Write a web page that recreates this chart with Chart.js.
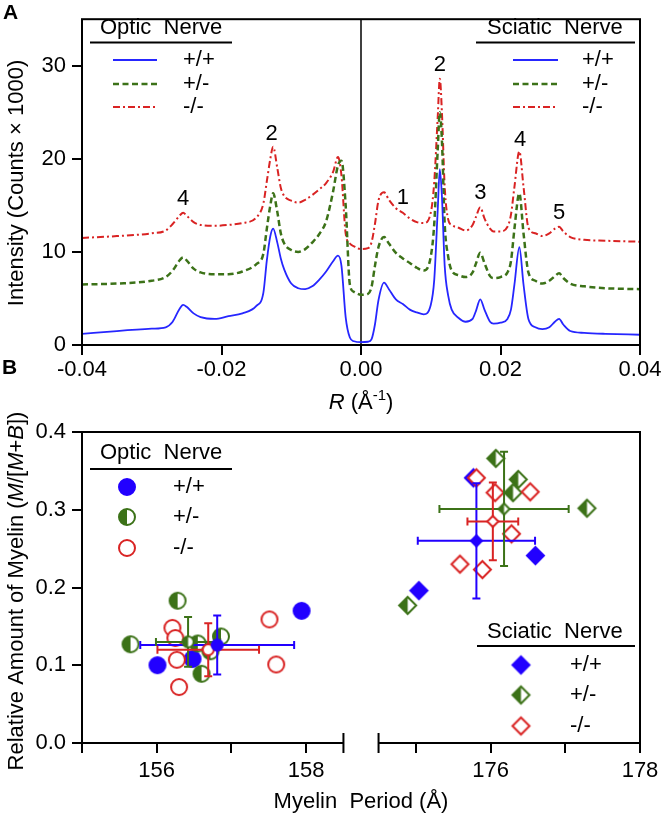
<!DOCTYPE html>
<html>
<head>
<meta charset="utf-8">
<script src="https://cdn.jsdelivr.net/npm/chart.js@4.4.1/dist/chart.umd.min.js"></script>
<style>
  body { margin: 0; background: #fff; }
  #wrap { position: relative; width: 664px; height: 815px; }
  canvas { position: absolute; left: 0; }
  #topChart { top: 0; }
  #botChart { top: 410px; }
</style>
</head>
<body>
<div id="wrap">
  <canvas id="topChart" width="664" height="420"></canvas>
  <canvas id="botChart" width="664" height="405"></canvas>
</div>
<script>
// ---- panel A data ----
const qValues = [-0.040,-0.035,-0.030,-0.028,-0.027,-0.026,-0.0255,-0.025,-0.024,-0.023,
  -0.021,-0.019,-0.017,-0.015,-0.014,-0.0135,-0.013,-0.0126,-0.012,-0.0115,
  -0.011,-0.010,-0.009,-0.008,-0.007,-0.006,-0.005,-0.004,-0.0033,-0.0028,
  -0.0022,-0.0016,-0.001,0.000,0.001,0.0015,0.002,0.0025,0.0033,0.004,
  0.005,0.006,0.007,0.008,0.009,0.010,0.0105,0.011,0.0113,0.0116,
  0.012,0.0125,0.013,0.014,0.015,0.016,0.0165,0.0171,0.0177,0.0185,
  0.019,0.020,0.021,0.0215,0.022,0.0227,0.0233,0.024,0.025,0.026,
  0.027,0.0278,0.0284,0.029,0.030,0.032,0.035,0.040];
const wtIntensity = [1.2,1.5,1.75,1.9,2.5,3.9,4.3,4.1,3.4,3.0,
  2.8,3.1,3.4,4.2,5.6,9.1,11.7,12.5,11.0,9.3,
  8.1,6.6,6.1,6.0,6.3,7.0,7.9,9.0,9.6,8.5,
  3.0,0.8,0.4,0.3,0.35,0.6,2.2,4.8,6.7,6.0,
  4.9,4.4,3.8,3.5,3.3,4.3,7.0,14.5,18.9,16.0,
  8.5,5.3,3.8,2.9,2.5,2.8,3.7,4.9,3.8,2.5,
  2.3,2.4,2.8,3.8,6.5,10.5,6.5,2.8,1.9,1.7,
  1.9,2.5,2.8,2.2,1.5,1.3,1.2,1.1];
const hetIntensity = [6.5,6.6,6.9,7.3,8.0,9.1,9.4,9.1,8.2,7.8,
  7.6,7.6,7.9,8.7,9.8,12.5,15.0,16.3,14.3,12.0,
  10.9,10.2,10.0,10.3,11.0,11.9,13.3,16.5,19.3,19.8,
  15.0,6.5,5.7,5.4,5.5,6.2,8.5,10.5,11.6,10.9,
  9.9,9.3,8.8,8.3,8.0,9.5,13.0,21.0,25.0,22.0,
  13.0,9.5,8.0,7.5,7.3,7.8,8.8,9.9,8.8,7.4,
  7.2,7.3,7.8,9.0,12.5,16.3,12.0,7.8,6.9,6.6,
  6.9,7.4,7.7,7.2,6.6,6.3,6.1,6.0];
const koIntensity = [11.5,11.7,12.0,12.3,13.0,13.9,14.2,13.9,13.2,12.9,
  12.8,12.9,13.1,13.7,15.2,17.6,20.0,21.3,19.0,16.9,
  16.0,15.5,15.3,15.6,16.1,16.7,17.4,18.6,20.2,18.2,
  12.0,10.9,10.6,10.3,10.4,11.0,13.0,15.5,16.4,15.6,
  14.7,14.2,13.6,13.2,13.1,14.2,17.5,24.5,28.6,25.0,
  17.0,13.5,12.9,12.6,12.3,12.9,13.8,14.8,13.6,12.5,
  12.2,12.2,12.7,14.0,17.0,20.8,17.0,12.6,12.0,11.7,
  12.0,12.5,12.7,12.2,11.6,11.3,11.2,11.1];
const peakText = ['4', '2', '1', '2', '3', '4', '5'];
const peakQ = [-0.0255, -0.0128, 0.0060, 0.0113, 0.0171, 0.0228, 0.0284];
const peakY = [15.7, 22.7, 15.8, 30.1, 16.3, 22.0, 14.2];
const rTicks = [-0.04, -0.02, 0, 0.02, 0.04];
const intensityTicks = [0, 10, 20, 30];

// ---- panel B data ----
const genotypes = ['+/+', '+/-', '-/-'];
const opticWtX = [156.01, 156.48, 157.94];
const opticWtY = [0.100, 0.108, 0.170];
const opticHetX = [156.28, 155.65, 156.55, 156.86, 156.72, 156.60];
const opticHetY = [0.183, 0.127, 0.128, 0.137, 0.118, 0.089];
const opticKoX = [156.21, 156.25, 156.27, 156.30, 157.51, 157.60];
const opticKoY = [0.148, 0.135, 0.107, 0.072, 0.159, 0.101];
const opticMeanX = [156.81, 156.42, 156.69];
const opticMeanY = [0.126, 0.130, 0.120];
const opticSdX = [1.03, 0.43, 0.68];
const opticSdY = [0.038, 0.032, 0.034];

const sciWtX = [175.04, 176.60, 175.77];
const sciWtY = [0.196, 0.241, 0.341];
const sciHetX = [174.89, 176.07, 176.37, 176.30, 177.29];
const sciHetY = [0.177, 0.366, 0.339, 0.322, 0.302];
const sciKoX = [175.81, 176.06, 176.53, 176.28, 175.59, 175.89];
const sciKoY = [0.341, 0.322, 0.323, 0.269, 0.230, 0.223];
const sciMeanX = [175.81, 176.18, 176.03];
const sciMeanY = [0.260, 0.301, 0.285];
const sciSdX = [0.785, 0.865, 0.34];
const sciSdY = [0.074, 0.0735, 0.050];

const periodTicks = [155, 156, 157, 158, 175, 176, 177, 178];
const periodLabels = [156, 158, 176, 178];
const amountTicks = [0, 0.1, 0.2, 0.3, 0.4];

// broken x axis: 155-158.5 | 174.5-178
const LEFT_MIN = 155, LEFT_MAX = 158.5, RIGHT_MIN = 174.5, RIGHT_MAX = 178, GAP = 0.47;
const SCI_SHIFT = RIGHT_MIN - LEFT_MAX - GAP;
const periodAxis = v => v > LEFT_MAX ? v - SCI_SHIFT : v;

const FAMILY = '"Liberation Sans", Arial, sans-serif';
const F_N = '22px ' + FAMILY;
const F_I = 'italic 22px ' + FAMILY;
const F_S = '15px ' + FAMILY;
const BLUE = '#2626ff', GREEN = '#3c7218', RED = '#d92323', MBLUE = '#2200ff';
const colors = [MBLUE, GREEN, RED];

function drawRuns(ctx, runs, cx, cy, angle) {
  ctx.save();
  ctx.translate(cx, cy);
  ctx.rotate(angle || 0);
  ctx.textBaseline = 'middle';
  ctx.textAlign = 'left';
  ctx.fillStyle = '#000';
  let w = 0;
  runs.forEach(r => { ctx.font = r.font; w += ctx.measureText(r.t).width; });
  let x = -w / 2;
  runs.forEach(r => {
    ctx.font = r.font;
    ctx.fillText(r.t, x, r.dy || 0);
    x += ctx.measureText(r.t).width;
  });
  ctx.restore();
}

function text(ctx, t, x, y, font, align) {
  ctx.font = font || F_N;
  ctx.fillStyle = '#000';
  ctx.textAlign = align || 'left';
  ctx.textBaseline = 'middle';
  ctx.fillText(t, x, y);
}

function hline(ctx, x0, x1, y, w) {
  ctx.beginPath();
  ctx.moveTo(x0, y);
  ctx.lineTo(x1, y);
  ctx.lineWidth = w || 2;
  ctx.strokeStyle = '#000';
  ctx.stroke();
}

// marker images for the scatter panel
function marker(shape, mode, color, r) {
  const lw = 2, size = Math.ceil(2 * r + 2 * lw + 2);
  const c = document.createElement('canvas');
  c.width = c.height = size;
  const g = c.getContext('2d');
  const m = size / 2;
  const path = () => {
    g.beginPath();
    if (shape === 'circle') {
      g.arc(m, m, r, 0, Math.PI * 2);
    } else {
      g.moveTo(m, m - r); g.lineTo(m + r, m); g.lineTo(m, m + r); g.lineTo(m - r, m); g.closePath();
    }
  };
  path();
  g.fillStyle = mode === 'full' ? color : '#fff';
  g.fill();
  if (mode === 'half') {
    g.save();
    g.beginPath(); g.rect(0, 0, m, size); g.clip();
    path(); g.fillStyle = color; g.fill();
    g.restore();
  }
  path();
  g.lineWidth = lw;
  g.strokeStyle = color;
  g.stroke();
  return c;
}
const modes = ['full', 'half', 'open'];
const circleBig = modes.map((m, i) => marker('circle', m, colors[i], 8));
const circleMean = modes.map((m, i) => marker('circle', m, colors[i], 5.5));
const diamondBig = modes.map((m, i) => marker('diamond', m, colors[i], 8.5));
const diamondMean = modes.map((m, i) => marker('diamond', m, colors[i], 5.5));

// ---------- Panel A ----------
const lineStyles = [
  { color: BLUE, width: 1.8, dash: [] },
  { color: GREEN, width: 2.5, dash: [6, 3.5] },
  { color: RED, width: 2, dash: [7, 3, 2, 3] }
];
const intensitySeries = [wtIntensity, hetIntensity, koIntensity];

const topDecor = {
  id: 'topDecor',
  beforeDatasetsDraw(chart) {
    const { ctx, chartArea: a, scales } = chart;
    const x0 = scales.x.getPixelForValue(0);
    ctx.save();
    ctx.beginPath();
    ctx.moveTo(x0, a.top);
    ctx.lineTo(x0, a.bottom);
    ctx.lineWidth = 1.5;
    ctx.strokeStyle = '#000';
    ctx.stroke();
    ctx.restore();
  },
  afterDraw(chart) {
    const { ctx, chartArea: a, scales } = chart;
    ctx.save();
    ctx.lineWidth = 2;
    ctx.strokeStyle = '#000';
    ctx.strokeRect(a.left, a.top, a.right - a.left, a.bottom - a.top);

    peakText.forEach((t, i) => {
      text(ctx, t, scales.x.getPixelForValue(peakQ[i]), scales.y.getPixelForValue(peakY[i]), F_N, 'center');
    });

    const legends = [
      { title: 'Optic  Nerve', tx: 100, ux0: 90, ux1: 232, sx0: 113, sx1: 157, lx: 183 },
      { title: 'Sciatic  Nerve', tx: 487, ux0: 476, ux1: 635, sx0: 513, sx1: 558, lx: 582 }
    ];
    const rows = [60, 84, 107];
    legends.forEach(L => {
      text(ctx, L.title, L.tx, 28);
      hline(ctx, L.ux0, L.ux1, 42.5, 2);
      rows.forEach((y, i) => {
        const s = lineStyles[i];
        ctx.beginPath();
        ctx.setLineDash(s.dash);
        ctx.moveTo(L.sx0, y);
        ctx.lineTo(L.sx1, y);
        ctx.lineWidth = s.width;
        ctx.strokeStyle = s.color;
        ctx.stroke();
        ctx.setLineDash([]);
        text(ctx, genotypes[i], L.lx, y);
      });
    });

    drawRuns(ctx, [{ t: 'Intensity (Counts \u00d7 1000)', font: F_N }], 17, 183, -Math.PI / 2);
    drawRuns(ctx, [
      { t: 'R', font: F_I }, { t: ' (\u00c5', font: F_N }, { t: '-1', font: F_S, dy: -7 }, { t: ')', font: F_N }
    ], 361, 403);
    text(ctx, 'A', 3, 13, 'bold 21px ' + FAMILY);
    text(ctx, 'B', 2, 368, 'bold 21px ' + FAMILY);
    ctx.restore();
  }
};

const tickFont = { family: FAMILY, size: 22 };
const axisGrid = { drawOnChartArea: false, drawTicks: true, tickLength: 10, color: '#000', lineWidth: 2 };

new Chart(document.getElementById('topChart'), {
  type: 'line',
  data: {
    datasets: intensitySeries.map((ys, i) => ({
      label: genotypes[i],
      data: qValues.map((q, k) => ({ x: q, y: ys[k] })),
      borderColor: lineStyles[i].color,
      borderWidth: lineStyles[i].width,
      borderDash: lineStyles[i].dash,
      pointRadius: 0,
      fill: false,
      cubicInterpolationMode: 'monotone'
    }))
  },
  options: {
    responsive: false,
    animation: false,
    events: [],
    layout: { padding: { left: 0, right: 24, top: 4, bottom: 0 } },
    plugins: { legend: { display: false }, tooltip: { enabled: false } },
    scales: {
      x: {
        type: 'linear', min: -0.04, max: 0.04,
        afterFit: s => { s.height = 75; },
        afterBuildTicks: s => { s.ticks = rTicks.map(v => ({ value: v })); },
        ticks: {
          font: tickFont, color: '#000', padding: 2, maxRotation: 0, autoSkip: false,
          callback: v => Math.abs(v) < 1e-9 ? '0.00' : v.toFixed(2)
        },
        grid: axisGrid,
        border: { display: false }
      },
      y: {
        min: 0, max: 35,
        afterFit: s => { s.width = 82; },
        afterBuildTicks: s => { s.ticks = intensityTicks.map(v => ({ value: v })); },
        ticks: { font: tickFont, color: '#000', padding: 6, callback: v => String(v) },
        grid: axisGrid,
        border: { display: false }
      }
    }
  },
  plugins: [topDecor]
});

// ---------- Panel B ----------
const opticX = [opticWtX, opticHetX, opticKoX], opticY = [opticWtY, opticHetY, opticKoY];
const sciX = [sciWtX, sciHetX, sciKoX], sciY = [sciWtY, sciHetY, sciKoY];
const toPts = (xs, ys) => xs.map((x, i) => ({ x: periodAxis(x), y: ys[i] }));

function pointSet(label, pts, img) {
  return { label, data: pts, pointStyle: img, pointRadius: 8, showLine: false };
}

const scatterSets = [];
// means (index 0..5, drawn on top)
[0, 1, 2].forEach(g => scatterSets.push(pointSet('optic mean ' + genotypes[g],
  toPts([opticMeanX[g]], [opticMeanY[g]]), circleMean[g])));
[0, 1, 2].forEach(g => scatterSets.push(pointSet('sciatic mean ' + genotypes[g],
  toPts([sciMeanX[g]], [sciMeanY[g]]), diamondMean[g])));
// individual animals, red on top
[2, 1, 0].forEach(g => scatterSets.push(pointSet('optic ' + genotypes[g],
  toPts(opticX[g], opticY[g]), circleBig[g])));
[2, 1, 0].forEach(g => scatterSets.push(pointSet('sciatic ' + genotypes[g],
  toPts(sciX[g], sciY[g]), diamondBig[g])));

function drawErrorBars(ctx, sx, sy, mx, my, ex, ey, color) {
  const cx = sx.getPixelForValue(periodAxis(mx)), cy = sy.getPixelForValue(my);
  const xl = sx.getPixelForValue(periodAxis(mx - ex)), xr = sx.getPixelForValue(periodAxis(mx + ex));
  const yt = sy.getPixelForValue(my + ey), yb = sy.getPixelForValue(my - ey);
  const cap = 4;
  ctx.beginPath();
  ctx.moveTo(xl, cy); ctx.lineTo(xr, cy);
  ctx.moveTo(xl, cy - cap); ctx.lineTo(xl, cy + cap);
  ctx.moveTo(xr, cy - cap); ctx.lineTo(xr, cy + cap);
  ctx.moveTo(cx, yt); ctx.lineTo(cx, yb);
  ctx.moveTo(cx - cap, yt); ctx.lineTo(cx + cap, yt);
  ctx.moveTo(cx - cap, yb); ctx.lineTo(cx + cap, yb);
  ctx.lineWidth = 2;
  ctx.strokeStyle = color;
  ctx.stroke();
}

const botDecor = {
  id: 'botDecor',
  beforeDatasetDraw(chart, args) {
    if (args.index !== 5) return;
    const { ctx, scales } = chart;
    ctx.save();
    [0, 1, 2].forEach(g => {
      drawErrorBars(ctx, scales.x, scales.y, opticMeanX[g], opticMeanY[g], opticSdX[g], opticSdY[g], colors[g]);
      drawErrorBars(ctx, scales.x, scales.y, sciMeanX[g], sciMeanY[g], sciSdX[g], sciSdY[g], colors[g]);
    });
    ctx.restore();
  },
  afterDraw(chart) {
    const { ctx, chartArea: a, scales } = chart;
    ctx.save();
    ctx.strokeStyle = '#000';
    ctx.lineWidth = 2;
    const xBreakL = scales.x.getPixelForValue(LEFT_MAX);
    const xBreakR = scales.x.getPixelForValue(periodAxis(RIGHT_MIN + 1e-9));
    ctx.beginPath();
    ctx.moveTo(a.left, a.bottom); ctx.lineTo(a.left, a.top);
    ctx.lineTo(a.right, a.top); ctx.lineTo(a.right, a.bottom);
    ctx.moveTo(a.left, a.bottom); ctx.lineTo(xBreakL, a.bottom);
    ctx.moveTo(xBreakR, a.bottom); ctx.lineTo(a.right, a.bottom);
    ctx.moveTo(xBreakL, a.bottom - 10); ctx.lineTo(xBreakL, a.bottom + 10);
    ctx.moveTo(xBreakR, a.bottom - 10); ctx.lineTo(xBreakR, a.bottom + 10);
    ctx.stroke();

    // optic legend
    text(ctx, 'Optic  Nerve', 100, 43);
    hline(ctx, 90, 232, 59, 2);
    [77, 107, 138].forEach((y, g) => {
      const img = circleBig[g];
      ctx.drawImage(img, 127 - img.width / 2, y - img.height / 2);
      text(ctx, genotypes[g], 173, y);
    });
    // sciatic legend
    text(ctx, 'Sciatic  Nerve', 487, 222);
    hline(ctx, 477, 635, 236, 2);
    [255, 285, 316].forEach((y, g) => {
      const img = diamondBig[g];
      ctx.drawImage(img, 521 - img.width / 2, y - img.height / 2);
      text(ctx, genotypes[g], 570, y);
    });

    drawRuns(ctx, [
      { t: 'Relative Amount of Myelin (', font: F_N }, { t: 'M', font: F_I }, { t: '/[', font: F_N },
      { t: 'M', font: F_I }, { t: '+', font: F_N }, { t: 'B', font: F_I }, { t: '])', font: F_N }
    ], 17, 181, -Math.PI / 2);
    drawRuns(ctx, [{ t: 'Myelin  Period (\u00c5)', font: F_N }], 361, 392);
    ctx.restore();
  }
};

new Chart(document.getElementById('botChart'), {
  type: 'scatter',
  data: { datasets: scatterSets },
  options: {
    responsive: false,
    animation: false,
    events: [],
    layout: { padding: { left: 0, right: 24, top: 22, bottom: 0 } },
    plugins: { legend: { display: false }, tooltip: { enabled: false } },
    scales: {
      x: {
        type: 'linear', min: LEFT_MIN, max: LEFT_MAX + GAP + (RIGHT_MAX - RIGHT_MIN),
        afterFit: s => { s.height = 72; },
        afterBuildTicks: s => { s.ticks = periodTicks.map(v => ({ value: periodAxis(v) })); },
        ticks: {
          font: tickFont, color: '#000', padding: 5, maxRotation: 0, autoSkip: false,
          callback: v => {
            const real = Math.round(v > LEFT_MAX ? v + SCI_SHIFT : v);
            return periodLabels.includes(real) ? String(real) : '';
          }
        },
        grid: axisGrid,
        border: { display: false }
      },
      y: {
        min: 0, max: 0.4,
        afterFit: s => { s.width = 82; },
        afterBuildTicks: s => { s.ticks = amountTicks.map(v => ({ value: v })); },
        ticks: { font: tickFont, color: '#000', padding: 6, callback: v => v.toFixed(1) },
        grid: axisGrid,
        border: { display: false }
      }
    }
  },
  plugins: [botDecor]
});
</script>
</body>
</html>
